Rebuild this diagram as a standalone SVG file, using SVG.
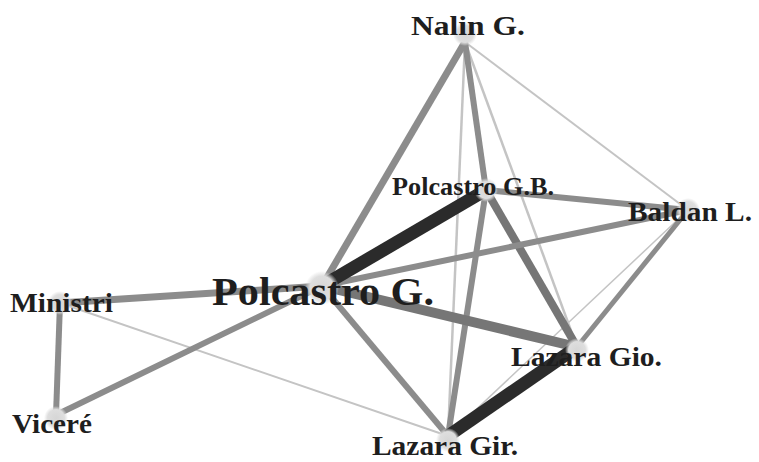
<svg xmlns="http://www.w3.org/2000/svg" width="759" height="462" viewBox="0 0 759 462">
<style>
.e{fill:none;stroke-linecap:butt}
.g{stroke:#8c8c8c}
.d{stroke:#767676}
.k{stroke:#2b2b2b}
.l{stroke:#c4c4c4}
.lb{font-family:"Liberation Serif",serif;font-weight:bold;fill:#1e1e1e}
</style>
<defs>
<radialGradient id="blob"><stop offset="0" stop-color="#d6d6d6"/><stop offset="0.7" stop-color="#dedede"/><stop offset="1" stop-color="#dedede" stop-opacity="0"/></radialGradient>
</defs>
<rect width="759" height="462" fill="#fff"/>
<g id="connectors">
<line class="e l" x1="465" y1="42" x2="688" y2="210" stroke-width="2"/>
<line class="e l" x1="465" y1="42" x2="448" y2="436" stroke-width="2.5"/>
<line class="e l" x1="465" y1="42" x2="577" y2="347" stroke-width="2.5"/>
<line class="e l" x1="688" y1="210" x2="448" y2="436" stroke-width="1.5"/>
<line class="e l" x1="60" y1="303" x2="448" y2="436" stroke-width="2"/>
<line class="e g" x1="465" y1="42" x2="322" y2="286" stroke-width="7"/>
<line class="e g" x1="465" y1="42" x2="486" y2="190" stroke-width="6"/>
<line class="e g" x1="486" y1="190" x2="688" y2="210" stroke-width="6"/>
<line class="e d" x1="486" y1="190" x2="577" y2="347" stroke-width="8"/>
<line class="e g" x1="486" y1="190" x2="448" y2="436" stroke-width="6"/>
<line class="e g" x1="322" y1="286" x2="688" y2="210" stroke-width="6"/>
<line class="e d" x1="322" y1="286" x2="577" y2="347" stroke-width="10"/>
<line class="e g" x1="322" y1="286" x2="448" y2="436" stroke-width="6"/>
<line class="e g" x1="60" y1="303" x2="322" y2="286" stroke-width="7"/>
<line class="e g" x1="322" y1="286" x2="56" y2="415" stroke-width="6"/>
<line class="e g" x1="60" y1="303" x2="56" y2="415" stroke-width="6"/>
<line class="e g" x1="688" y1="210" x2="577" y2="347" stroke-width="5"/>
<line class="e k" x1="486" y1="190" x2="322" y2="286" stroke-width="13"/>
<line class="e k" x1="577" y1="347" x2="448" y2="436" stroke-width="13"/>
</g>
<g id="nalin"><circle cx="465" cy="34" r="12" fill="url(#blob)"/><text class="lb" x="411" y="35" font-size="27" textLength="114" lengthAdjust="spacingAndGlyphs">Nalin G.</text></g>
<g id="polcastro-gb"><circle cx="486" cy="190" r="12" fill="url(#blob)"/><text class="lb" x="392" y="195" font-size="26" textLength="162" lengthAdjust="spacingAndGlyphs">Polcastro G.B.</text></g>
<g id="baldan"><circle cx="688" cy="210" r="12" fill="url(#blob)"/><text class="lb" x="628" y="221" font-size="27" textLength="124" lengthAdjust="spacingAndGlyphs">Baldan L.</text></g>
<g id="ministri"><circle cx="60" cy="303" r="12" fill="url(#blob)"/><text class="lb" x="10" y="312" font-size="27" textLength="103" lengthAdjust="spacingAndGlyphs">Ministri</text></g>
<g id="polcastro-g"><circle cx="322" cy="288" r="17" fill="url(#blob)"/><text class="lb" x="212" y="305" font-size="40" textLength="222" lengthAdjust="spacingAndGlyphs">Polcastro G.</text></g>
<g id="lazara-gio"><circle cx="577" cy="350" r="12" fill="url(#blob)"/><text class="lb" x="511" y="366" font-size="27" textLength="151" lengthAdjust="spacingAndGlyphs">Lazara Gio.</text></g>
<g id="vicere"><circle cx="56" cy="418" r="12" fill="url(#blob)"/><text class="lb" x="12" y="433" font-size="27" textLength="80" lengthAdjust="spacingAndGlyphs">Viceré</text></g>
<g id="lazara-gir"><circle cx="448" cy="440" r="12" fill="url(#blob)"/><text class="lb" x="372" y="455" font-size="27" textLength="146" lengthAdjust="spacingAndGlyphs">Lazara Gir.</text></g>
</svg>
